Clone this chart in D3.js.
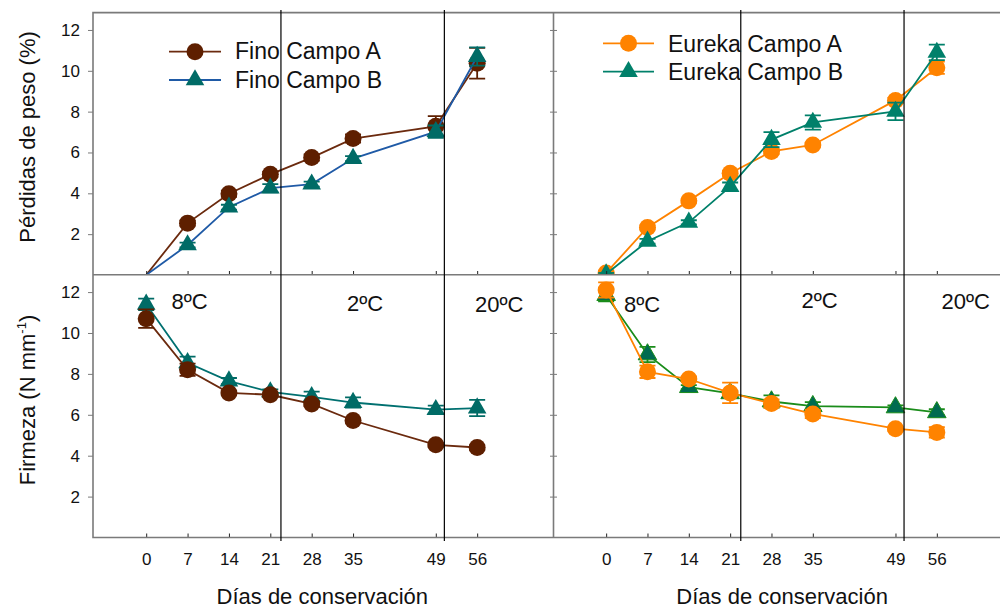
<!DOCTYPE html>
<html>
<head>
<meta charset="utf-8">
<script src="https://cdn.jsdelivr.net/npm/d3@7"></script>
<style>
  body { margin: 0; background: #fff; }
  svg { display: block; font-family: Arial, "Liberation Sans", sans-serif; }
</style>
</head>
<body>
<script>
// datos
const days = [0, 7, 14, 21, 28, 35, 49, 56];
const yTicks = [2, 4, 6, 8, 10, 12];

// pérdidas de peso (%)
const finoA_loss = [0, 2.54, 3.98, 4.93, 5.75, 6.68, 7.28, 10.37];
const finoA_lossErr = [0, 0.12, 0.15, 0.12, 0.15, 0.2, 0.5, 0.75];
const finoB_loss = [0, 1.47, 3.32, 4.25, 4.45, 5.7, 7.02, 10.7];
const finoB_lossErr = [0, 0.12, 0.12, 0.2, 0.12, 0.12, 0.3, 0.45];
const eurekaA_loss = [0.1, 2.33, 3.63, 4.98, 6.05, 6.37, 8.55, 10.15];
const eurekaA_lossErr = [0.05, 0.1, 0.1, 0.12, 0.12, 0.1, 0.12, 0.3];
const eurekaB_loss = [0.05, 1.65, 2.58, 4.33, 6.63, 7.47, 8.01, 10.9];
const eurekaB_lossErr = [0.05, 0.12, 0.1, 0.2, 0.37, 0.35, 0.43, 0.38];

// firmeza (N mm-1)
const finoA_firm = [10.7, 8.2, 7.07, 6.98, 6.53, 5.72, 4.53, 4.4];
const finoA_firmErr = [0.45, 0.3, 0.1, 0.12, 0.1, 0.1, 0.1, 0.12];
const finoB_firm = [11.4, 8.54, 7.65, 7.12, 6.88, 6.6, 6.25, 6.33];
const finoB_firmErr = [0.28, 0.3, 0.15, 0.12, 0.25, 0.25, 0.2, 0.4];
const eurekaA_firm = [12.1, 8.1, 7.75, 7.07, 6.55, 6.04, 5.32, 5.14];
const eurekaA_firmErr = [0.37, 0.3, 0.12, 0.5, 0.2, 0.2, 0.1, 0.25];
const eurekaB_firm = [11.85, 8.95, 7.35, 7.05, 6.65, 6.42, 6.36, 6.12];
const eurekaB_firmErr = [0.3, 0.37, 0.1, 0.1, 0.3, 0.2, 0.1, 0.15];

const dividers = [22.8, 50.45]; // cambios de temperatura
const temps = ['8ºC', '2ºC', '20ºC'];

const width = 1000, height = 610;
const svg = d3.select('body').append('svg').attr('width', width).attr('height', height);

const xL = d3.scaleLinear().domain([-9, 69]).range([93, 554]);
const xR = d3.scaleLinear().domain([-9, 66.7]).range([553, 1000]);
const yTop = d3.scaleLinear().domain([0, 12.85]).range([275, 12.6]);
const yBot = d3.scaleLinear().domain([0, 12.85]).range([537.5, 274.7]);

const gray = '#7a7a7a';

const panels = [
  {id: 'tl', x: xL, y: yTop, series: [
    {v: finoA_loss, e: finoA_lossErr, shape: 'circle', fill: '#5e1f00', line: '#6b2a0e'},
    {v: finoB_loss, e: finoB_lossErr, shape: 'triangle', fill: '#006b66', line: '#1f5aa6'}]},
  {id: 'tr', x: xR, y: yTop, series: [
    {v: eurekaA_loss, e: eurekaA_lossErr, shape: 'circle', fill: '#ff8300', line: '#ff8300'},
    {v: eurekaB_loss, e: eurekaB_lossErr, shape: 'triangle', fill: '#00806a', line: '#00806a'}]},
  {id: 'bl', x: xL, y: yBot, series: [
    {v: finoB_firm, e: finoB_firmErr, shape: 'triangle', fill: '#006b66', line: '#007070'},
    {v: finoA_firm, e: finoA_firmErr, shape: 'circle', fill: '#5e1f00', line: '#6b2a0e'}]},
  {id: 'br', x: xR, y: yBot, series: [
    {v: eurekaB_firm, e: eurekaB_firmErr, shape: 'triangle', fill: '#006b50', line: '#1a8c1a', err: '#1a8c1a'},
    {v: eurekaA_firm, e: eurekaA_firmErr, shape: 'circle', fill: '#ff8300', line: '#ff8300'}]}
];

const tri = d3.symbol().type(d3.symbolTriangle).size(150);

panels.forEach(p => {
  const [x0, x1] = p.x.range();
  const [yb, yt] = p.y.range();
  svg.append('clipPath').attr('id', 'c' + p.id)
    .append('rect').attr('x', x0).attr('y', yt).attr('width', x1 - x0).attr('height', yb - yt);
  const g = svg.append('g').attr('clip-path', `url(#c${p.id})`);

  p.series.forEach(s => {
    const pts = days.map((d, i) => ({d, v: s.v[i], e: s.e[i]}));
    g.append('path').datum(pts)
      .attr('fill', 'none').attr('stroke', s.line).attr('stroke-width', 1.8)
      .attr('d', d3.line().x(d => p.x(d.d)).y(d => p.y(d.v)));
    const ec = s.err || s.fill;
    const eb = g.append('g').attr('stroke', ec).attr('stroke-width', 1.8)
      .selectAll('g').data(pts.filter(d => d.v > 0)).join('g');
    eb.append('line').attr('x1', d => p.x(d.d)).attr('x2', d => p.x(d.d))
      .attr('y1', d => p.y(d.v - d.e)).attr('y2', d => p.y(d.v + d.e));
    [-1, 1].forEach(k => {
      eb.append('line').attr('x1', d => p.x(d.d) - 8).attr('x2', d => p.x(d.d) + 8)
        .attr('y1', d => p.y(d.v + k * d.e)).attr('y2', d => p.y(d.v + k * d.e));
    });
    const mk = g.append('g').selectAll('path').data(pts.filter(d => d.v > 0));
    if (s.shape === 'circle') {
      mk.join('circle').attr('cx', d => p.x(d.d)).attr('cy', d => p.y(d.v))
        .attr('r', 8.5).attr('fill', s.fill);
    } else {
      mk.join('path').attr('d', tri)
        .attr('transform', d => `translate(${p.x(d.d)},${p.y(d.v)})`)
        .attr('fill', s.fill).attr('stroke', s.err || 'none').attr('stroke-width', 1);
    }
  });

  // marcas del eje x hacia dentro
  svg.append('g').attr('transform', `translate(0,${yb})`)
    .call(d3.axisTop(p.x).tickValues(days).tickSize(4).tickFormat(''))
    .call(a => a.select('.domain').remove())
    .selectAll('line').attr('stroke', '#222');
});

// ejes y
[yTop, yBot].forEach(y => {
  svg.append('g').attr('transform', 'translate(93,0)')
    .call(d3.axisLeft(y).tickValues(yTicks).tickSize(5).tickPadding(8))
    .call(a => a.select('.domain').remove())
    .call(a => a.selectAll('line').attr('stroke', gray))
    .call(a => a.selectAll('text').attr('font-size', 17).attr('fill', '#111')
      .attr('font-family', 'Arial, "Liberation Sans", sans-serif'));
  svg.append('g').attr('transform', 'translate(554,0)')
    .call(d3.axisLeft(y).tickValues(yTicks).tickSize(4).tickFormat(''))
    .call(a => a.select('.domain').remove())
    .selectAll('line').attr('stroke', gray);
  svg.append('g').attr('transform', 'translate(553,0)')
    .call(d3.axisRight(y).tickValues(yTicks).tickSize(4).tickFormat(''))
    .call(a => a.select('.domain').remove())
    .selectAll('line').attr('stroke', gray);
});

// etiquetas del eje x
[xL, xR].forEach(x => {
  svg.append('g').attr('transform', 'translate(0,537.5)')
    .call(d3.axisBottom(x).tickValues(days).tickSize(0).tickPadding(15))
    .call(a => a.select('.domain').remove())
    .selectAll('text').attr('font-size', 17).attr('fill', '#111')
    .attr('font-family', 'Arial, "Liberation Sans", sans-serif');
});

// bordes de los paneles
const border = svg.append('g').attr('stroke', gray).attr('stroke-width', 1.6).attr('fill', 'none');
border.append('path').attr('d', `M1000,12.6H93V537.5H1000`);
border.append('line').attr('x1', 93).attr('x2', 1000).attr('y1', 274.7).attr('y2', 274.7);
border.append('line').attr('x1', 553.5).attr('x2', 553.5).attr('y1', 12.6).attr('y2', 537.5);

// líneas de cambio de temperatura
[xL, xR].forEach(x => {
  svg.append('g').selectAll('line').data(dividers).join('line')
    .attr('x1', d => x(d)).attr('x2', d => x(d)).attr('y1', 10).attr('y2', 541)
    .attr('stroke', '#000').attr('stroke-width', 1.2);
});

// etiquetas de temperatura
const tempPos = [
  {x: 171.5, y: 309}, {x: 347, y: 311}, {x: 475, y: 312},
  {x: 624, y: 312}, {x: 801.5, y: 308}, {x: 941.5, y: 309}];
svg.append('g').selectAll('text').data(tempPos).join('text')
  .attr('x', d => d.x).attr('y', d => d.y).attr('font-size', 22).attr('fill', '#111')
  .text((d, i) => temps[i % 3]);

// leyendas
const legends = [
  {x0: 169, x1: 221, tx: 235, rows: [
    {y: 51.7, ty: 59, label: 'Fino Campo A', shape: 'circle', fill: '#5e1f00', line: '#6b2a0e'},
    {y: 80, ty: 88, label: 'Fino Campo B', shape: 'triangle', fill: '#006b66', line: '#1f5aa6'}]},
  {x0: 603, x1: 654, tx: 668, rows: [
    {y: 43.3, ty: 52, label: 'Eureka Campo A', shape: 'circle', fill: '#ff8300', line: '#ff8300'},
    {y: 71.7, ty: 80, label: 'Eureka Campo B', shape: 'triangle', fill: '#00806a', line: '#00806a'}]}
];
legends.forEach(l => {
  l.rows.forEach(r => {
    svg.append('line').attr('x1', l.x0).attr('x2', l.x1).attr('y1', r.y).attr('y2', r.y)
      .attr('stroke', r.line).attr('stroke-width', 1.8);
    const cx = (l.x0 + l.x1) / 2;
    if (r.shape === 'circle') {
      svg.append('circle').attr('cx', cx).attr('cy', r.y).attr('r', 8.5).attr('fill', r.fill);
    } else {
      svg.append('path').attr('d', tri).attr('transform', `translate(${cx},${r.y})`).attr('fill', r.fill);
    }
    svg.append('text').attr('x', l.tx).attr('y', r.ty).attr('font-size', 23).attr('fill', '#111')
      .text(r.label);
  });
});

// títulos de ejes
svg.append('text').attr('transform', 'translate(35,137) rotate(-90)')
  .attr('text-anchor', 'middle').attr('font-size', 22).attr('fill', '#111')
  .text('Pérdidas de peso (%)');
const ft = svg.append('text').attr('transform', 'translate(35,400) rotate(-90)')
  .attr('text-anchor', 'middle').attr('font-size', 22).attr('fill', '#111');
ft.append('tspan').text('Firmeza (N mm');
ft.append('tspan').attr('font-size', 13).attr('dy', -9).text('-1');
ft.append('tspan').attr('dy', 9).text(')');

[xL, xR].forEach(x => {
  svg.append('text').attr('x', x(29.8)).attr('y', 604).attr('text-anchor', 'middle')
    .attr('font-size', 22).attr('fill', '#111').text('Días de conservación');
});
</script>
</body>
</html>
